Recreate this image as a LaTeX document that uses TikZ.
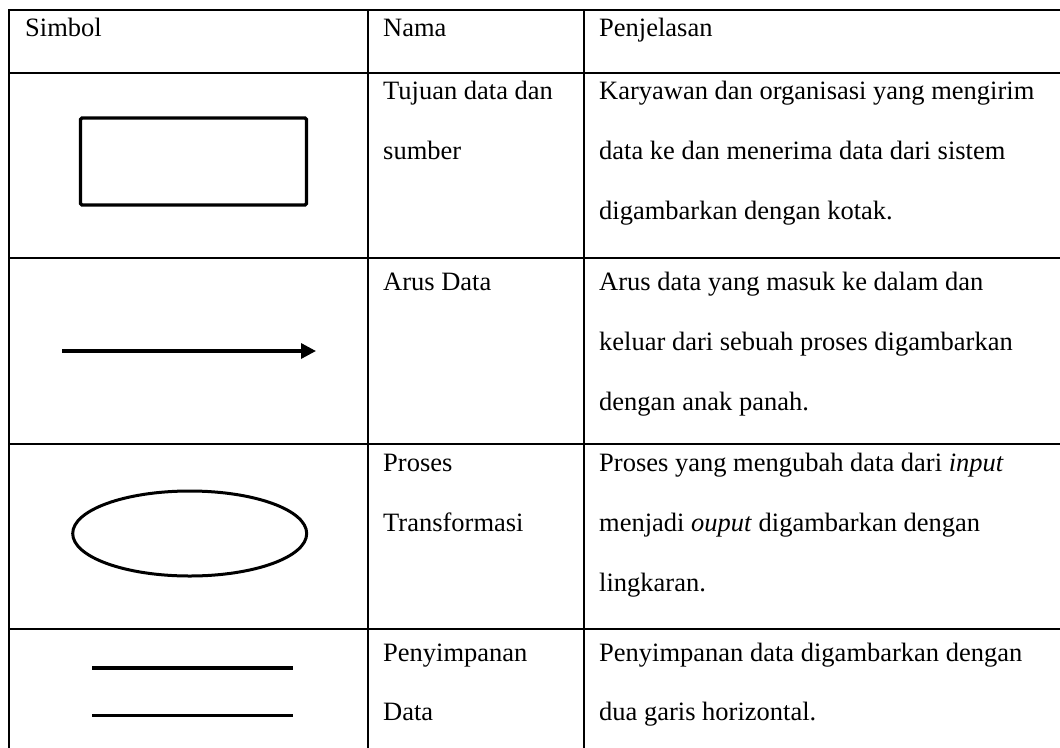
\documentclass[tikz,border=0pt]{standalone}
\usepackage{fontspec}
\setmainfont{Liberation Serif}
\usetikzlibrary{arrows.meta,shapes.geometric}
\begin{document}
\begin{tikzpicture}[x=1pt,y=-1pt,
  rule/.style={line width=2pt},
  cell/.style={anchor=base west, inner sep=0pt, font=\fontsize{26.5}{30}\selectfont},
  sym/.style={line width=3.3pt},
]
\useasboundingbox (0,0) rectangle (1060,747);
\fill[white] (0,0) rectangle (1060,747);

% table rules
\foreach \y in {10,72.5,258,443.5,629}
  \draw[rule] (8,\y) -- (1061,\y);
\foreach \x in {9,367.5,584}
  \draw[rule] (\x,9) -- (\x,748);

% header
\node[cell] (h1) at (25,36) {Simbol};
\node[cell] (h2) at (383,36) {Nama};
\node[cell] (h3) at (599,36) {Penjelasan};

% row 1: external entity
\node[draw, sym, rounded corners=1.5pt, minimum width=226pt, minimum height=87pt]
  (box) at (193.5,161.5) {};
\node[cell] (n1a) at (383,99) {Tujuan data dan};
\node[cell] (n1b) at (383,159) {sumber};
\node[cell] (d1a) at (599,99) {Karyawan dan organisasi yang mengirim};
\node[cell] (d1b) at (599,159) {data ke dan menerima data dari sistem};
\node[cell] (d1c) at (599,219) {digambarkan dengan kotak.};

% row 2: data flow
\coordinate (flowA) at (62,351);
\coordinate (flowB) at (316,351);
\draw[sym, -{Triangle[length=15pt,width=15pt]}] (flowA) -- (flowB);
\node[cell] (n2a) at (383,290) {Arus Data};
\node[cell] (d2a) at (599,290) {Arus data yang masuk ke dalam dan};
\node[cell] (d2b) at (599,350) {keluar dari sebuah proses digambarkan};
\node[cell] (d2c) at (599,410) {dengan anak panah.};

% row 3: process
\node[draw, ellipse, line width=3pt, minimum width=234pt, minimum height=85pt, inner sep=0pt]
  (proc) at (189.7,533.5) {};
\node[cell] (n3a) at (383,471) {Proses};
\node[cell] (n3b) at (383,531) {Transformasi};
\node[cell] (d3a) at (599,471) {Proses yang mengubah data dari \textit{input}};
\node[cell] (d3b) at (599,531) {menjadi \textit{ouput} digambarkan dengan};
\node[cell] (d3c) at (599,591) {lingkaran.};

% row 4: data store
\coordinate (s1a) at (92,668);
\coordinate (s1b) at (293,668);
\coordinate (s2a) at (92,715.3);
\coordinate (s2b) at (293,715.3);
\draw[sym] (s1a) -- (s1b);
\draw[sym] (s2a) -- (s2b);
\node[cell] (n4a) at (383,661) {Penyimpanan};
\node[cell] (n4b) at (383,720) {Data};
\node[cell] (d4a) at (599,661) {Penyimpanan data digambarkan dengan};
\node[cell] (d4b) at (599,720) {dua garis horizontal.};
\end{tikzpicture}
\end{document}
